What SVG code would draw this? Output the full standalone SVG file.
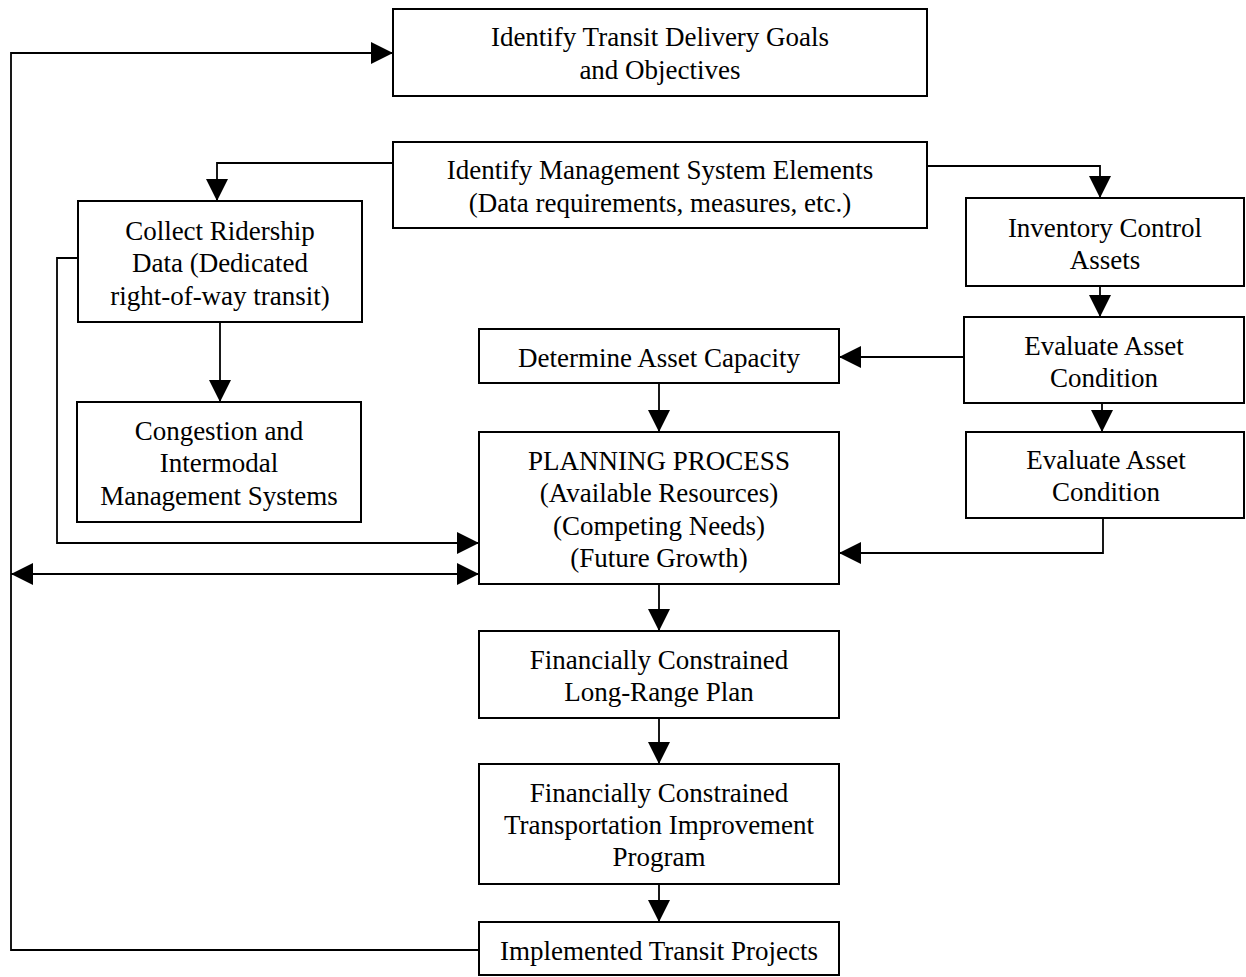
<svg xmlns="http://www.w3.org/2000/svg" width="1246" height="977" viewBox="0 0 1246 977">
  <style>
    .box { fill: #ffffff; stroke: #000000; stroke-width: 2; }
    .lbl { font-family: "Liberation Serif", "Times New Roman", serif; font-size: 27px; fill: #000000; text-anchor: middle; }
    .wire { fill: none; stroke: #000000; stroke-width: 1.8; }
    .arr { marker-end: url(#head); }
  </style>
  <defs>
    <marker id="head" markerUnits="userSpaceOnUse" markerWidth="22" markerHeight="22" viewBox="0 0 20 20" refX="20" refY="10" orient="auto-start-reverse">
      <path d="M0,0 L20,10 L0,20 Z" fill="#000000"/>
    </marker>
  </defs>
  <rect width="1246" height="977" fill="#ffffff"/>

  <!-- connectors -->
  <g id="connectors">
    <path class="wire arr" d="M479,950 H11 V53 H393"/>
    <path class="wire arr" d="M393,163 H217 V201"/>
    <path class="wire arr" d="M927,166 H1100 V198"/>
    <path class="wire arr" d="M1100,286 V317"/>
    <path class="wire arr" d="M1102,403 V432"/>
    <path class="wire arr" d="M964,357 H839"/>
    <path class="wire arr" d="M1103,518 V553 H839"/>
    <path class="wire arr" d="M78,258 H57 V543 H479"/>
    <path class="wire arr" d="M220,322 V402"/>
    <path class="wire arr" d="M11,574 H479" marker-start="url(#head)"/>
    <path class="wire arr" d="M659,383 V432"/>
    <path class="wire arr" d="M659,584 V631"/>
    <path class="wire arr" d="M659,718 V764"/>
    <path class="wire arr" d="M659,884 V922"/>
  </g>

  <g id="goals">
    <rect class="box" x="393" y="9" width="534" height="87"/>
    <text class="lbl" x="660" y="46">Identify Transit Delivery Goals</text>
    <text class="lbl" x="660" y="79">and Objectives</text>
  </g>

  <g id="mgmt-elements">
    <rect class="box" x="393" y="142" width="534" height="86"/>
    <text class="lbl" x="660" y="179">Identify Management System Elements</text>
    <text class="lbl" x="660" y="212">(Data requirements, measures, etc.)</text>
  </g>

  <g id="ridership">
    <rect class="box" x="78" y="201" width="284" height="121"/>
    <text class="lbl" x="220" y="240">Collect Ridership</text>
    <text class="lbl" x="220" y="272">Data (Dedicated</text>
    <text class="lbl" x="220" y="305">right-of-way transit)</text>
  </g>

  <g id="inventory">
    <rect class="box" x="966" y="198" width="278" height="88"/>
    <text class="lbl" x="1105" y="237">Inventory Control</text>
    <text class="lbl" x="1105" y="269">Assets</text>
  </g>

  <g id="capacity">
    <rect class="box" x="479" y="329" width="360" height="54"/>
    <text class="lbl" x="659" y="367">Determine Asset Capacity</text>
  </g>

  <g id="condition-1">
    <rect class="box" x="964" y="317" width="280" height="86"/>
    <text class="lbl" x="1104" y="355">Evaluate Asset</text>
    <text class="lbl" x="1104" y="387">Condition</text>
  </g>

  <g id="congestion">
    <rect class="box" x="77" y="402" width="284" height="120"/>
    <text class="lbl" x="219" y="440">Congestion and</text>
    <text class="lbl" x="219" y="472">Intermodal</text>
    <text class="lbl" x="219" y="505">Management Systems</text>
  </g>

  <g id="condition-2">
    <rect class="box" x="966" y="432" width="278" height="86"/>
    <text class="lbl" x="1106" y="469">Evaluate Asset</text>
    <text class="lbl" x="1106" y="501">Condition</text>
  </g>

  <g id="planning">
    <rect class="box" x="479" y="432" width="360" height="152"/>
    <text class="lbl" x="659" y="470">PLANNING PROCESS</text>
    <text class="lbl" x="659" y="502">(Available Resources)</text>
    <text class="lbl" x="659" y="535">(Competing Needs)</text>
    <text class="lbl" x="659" y="567">(Future Growth)</text>
  </g>

  <g id="long-range">
    <rect class="box" x="479" y="631" width="360" height="87"/>
    <text class="lbl" x="659" y="669">Financially Constrained</text>
    <text class="lbl" x="659" y="701">Long-Range Plan</text>
  </g>

  <g id="tip">
    <rect class="box" x="479" y="764" width="360" height="120"/>
    <text class="lbl" x="659" y="802">Financially Constrained</text>
    <text class="lbl" x="659" y="834">Transportation Improvement</text>
    <text class="lbl" x="659" y="866">Program</text>
  </g>

  <g id="implemented">
    <rect class="box" x="479" y="922" width="360" height="53"/>
    <text class="lbl" x="659" y="960">Implemented Transit Projects</text>
  </g>
</svg>
